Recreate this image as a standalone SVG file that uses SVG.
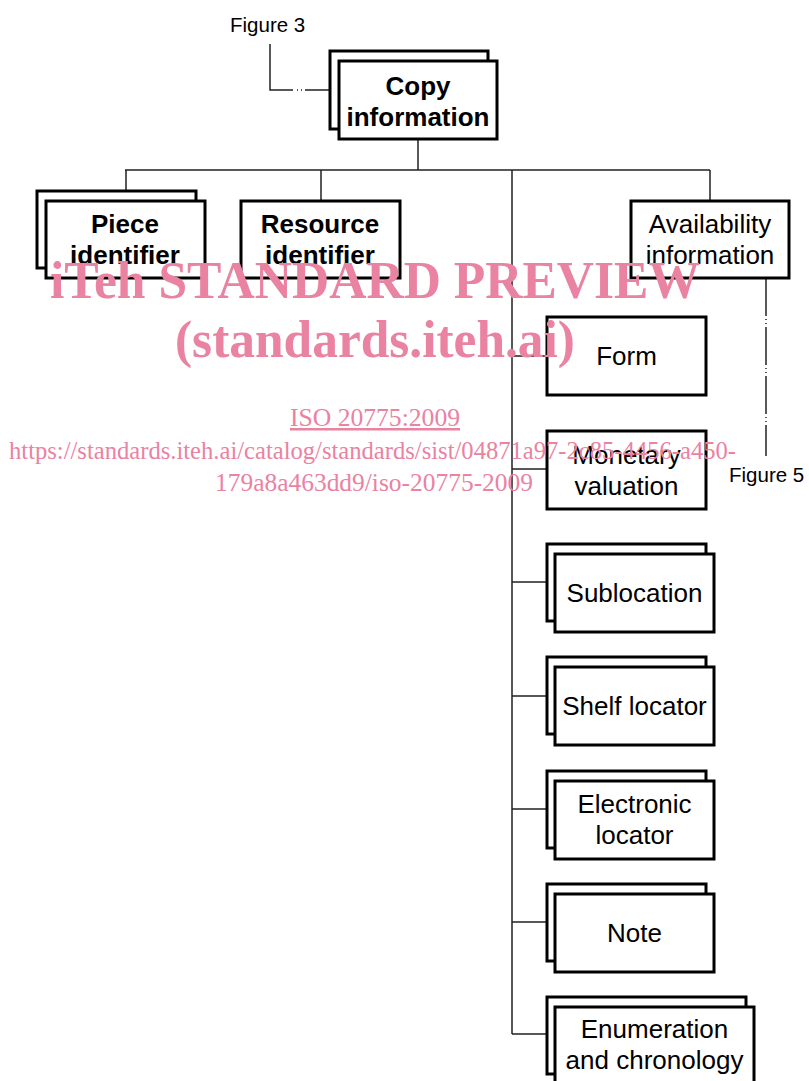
<svg xmlns="http://www.w3.org/2000/svg" width="809" height="1081" viewBox="0 0 809 1081">
<style>
.box{fill:#fff;stroke:#000;stroke-width:3}
.con{fill:none;stroke:#222;stroke-width:1.5}
.lb{font-family:"Liberation Sans",Arial,sans-serif;font-size:26px;fill:#000;text-anchor:middle}
.bd{font-weight:bold;font-size:26px}
.fig{font-family:"Liberation Sans",Arial,sans-serif;font-size:20.5px;fill:#000}
.wm{font-family:"Liberation Serif","Times New Roman",serif;fill:#ea82a2}
</style>
<rect width="809" height="1081" fill="#fff"/>
<g id="connectors">
<path class="con" d="M418 139V170M125 170H710M126 170V191M321 170V201M710 170V201M512 170V1034"/>
<path class="con" d="M512 356H547M512 469H547M512 582H547M512 696H547M512 809H547M512 922H547M512 1034H547"/>
<path class="con" d="M270 44V90H293M297 90H298M301 90H302M305 90H330"/>
<path class="con" d="M766 278V456" stroke-dasharray="38 3 1 3 1 3"/>
</g>
<g id="figure3"><text class="fig" x="230" y="32">Figure 3</text></g>
<g id="figure5"><text class="fig" x="729" y="482">Figure 5</text></g>
<g id="copy-information">
<rect class="box" x="330" y="51" width="158" height="78"/>
<rect class="box" x="339" y="61" width="158" height="78"/>
<text class="lb bd" x="418" y="95">Copy</text>
<text class="lb bd" x="418" y="126">information</text>
</g>
<g id="piece-identifier">
<rect class="box" x="37" y="191" width="159" height="77"/>
<rect class="box" x="46" y="201" width="159" height="77"/>
<text class="lb bd" x="125" y="233">Piece</text>
<text class="lb bd" x="125" y="264">identifier</text>
</g>
<g id="resource-identifier">
<rect class="box" x="241" y="201" width="159" height="77"/>
<text class="lb bd" x="320" y="233">Resource</text>
<text class="lb bd" x="320" y="264">identifier</text>
</g>
<g id="availability-information">
<rect class="box" x="631" y="201" width="158" height="77"/>
<text class="lb" x="710" y="233">Availability</text>
<text class="lb" x="710" y="264">information</text>
</g>
<g id="form">
<rect class="box" x="547" y="317" width="159" height="78"/>
<text class="lb" x="626.5" y="365">Form</text>
</g>
<g id="monetary-valuation">
<rect class="box" x="547" y="431" width="159" height="78"/>
<text class="lb" x="626.5" y="464">Monetary</text>
<text class="lb" x="626.5" y="495">valuation</text>
</g>
<g id="sublocation">
<rect class="box" x="547" y="544" width="159" height="77"/>
<rect class="box" x="555" y="554" width="159" height="78"/>
<text class="lb" x="634.5" y="602">Sublocation</text>
</g>
<g id="shelf-locator">
<rect class="box" x="547" y="657" width="159" height="77"/>
<rect class="box" x="555" y="667" width="159" height="78"/>
<text class="lb" x="634.5" y="715">Shelf locator</text>
</g>
<g id="electronic-locator">
<rect class="box" x="547" y="771" width="159" height="77"/>
<rect class="box" x="555" y="781" width="159" height="78"/>
<text class="lb" x="634.5" y="813">Electronic</text>
<text class="lb" x="634.5" y="844">locator</text>
</g>
<g id="note">
<rect class="box" x="547" y="884" width="159" height="77"/>
<rect class="box" x="555" y="894" width="159" height="78"/>
<text class="lb" x="634.5" y="942">Note</text>
</g>
<g id="enumeration-and-chronology">
<rect class="box" x="547" y="997" width="199" height="77"/>
<rect class="box" x="555" y="1007" width="199" height="80"/>
<text class="lb" x="654.5" y="1038">Enumeration</text>
<text class="lb" x="654.5" y="1069">and chronology</text>
</g>
<g id="watermark">
<text class="wm" x="50" y="298" font-size="52" font-weight="bold" textLength="650" lengthAdjust="spacingAndGlyphs">iTeh STANDARD PREVIEW</text>
<text class="wm" x="175" y="357" font-size="52" font-weight="bold" textLength="400" lengthAdjust="spacingAndGlyphs">(standards.iteh.ai)</text>
<text class="wm" x="290" y="426" font-size="25" text-decoration="underline" textLength="170" lengthAdjust="spacingAndGlyphs">ISO 20775:2009</text>
<text class="wm" x="9" y="459" font-size="25" textLength="727" lengthAdjust="spacingAndGlyphs">https://standards.iteh.ai/catalog/standards/sist/04871a97-2c85-4456-a450-</text>
<text class="wm" x="215" y="491" font-size="25" textLength="318" lengthAdjust="spacingAndGlyphs">179a8a463dd9/iso-20775-2009</text>
</g>
</svg>
